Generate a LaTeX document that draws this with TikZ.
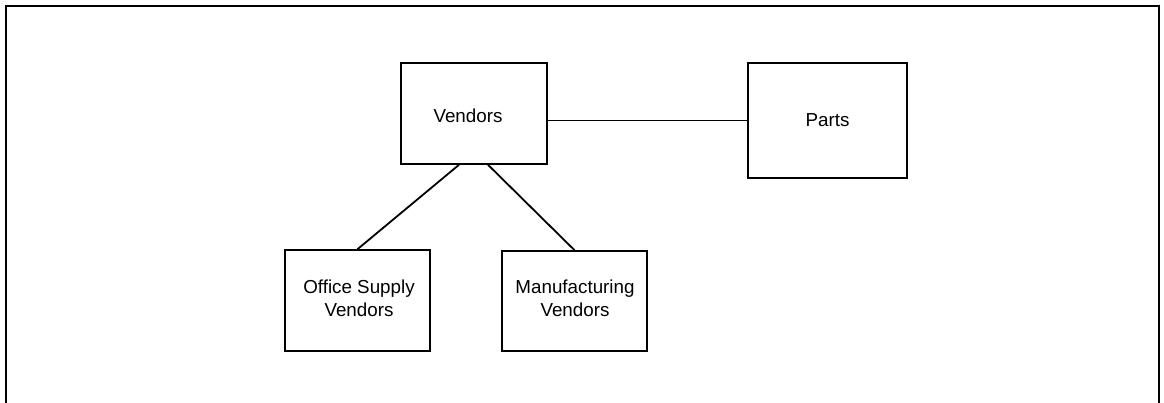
\documentclass[tikz,border=0pt]{standalone}
\usepackage{fontspec}
\setmainfont{Liberation Sans}
\begin{document}
\begin{tikzpicture}[x=1pt,y=-1pt,
  entity/.style={draw, line width=1.6pt, inner sep=0pt, align=center,
    font=\fontsize{18.8}{22.7}\selectfont},
  link/.style={line width=1.8pt}]
  \useasboundingbox (0,0) rectangle (1164,403);
  % open frame around the chart
  \draw[line width=2pt] (6,403) -- (6,6.5) -- (1159,6.5) -- (1159,403);

  \node[entity, minimum width=146pt, minimum height=101pt] (V) at (474,113.5) {};
  \node[font=\fontsize{18.8}{22.7}\selectfont] (Vt) at (468,115.5) {Vendors};
  \node[entity, minimum width=159pt, minimum height=115pt] (P) at (827.5,120.5) {Parts};
  \node[entity, minimum width=145pt, minimum height=101pt] (O) at (357.5,300.5) {};
  \node[font=\fontsize{18.8}{22.7}\selectfont, align=center] (Ot) at (359,298) {Office Supply\\Vendors};
  \node[entity, minimum width=145pt, minimum height=100pt] (M) at (574.5,301) {};
  \node[font=\fontsize{18.8}{22.7}\selectfont, align=center] (Mt) at (575,298.5) {Manufacturing\\Vendors};

  \draw[link] (P.west) -- (P.west -| V.east);
  \draw[link] ([xshift=-15pt]V.south) -- (O.north);
  \draw[link] ([xshift=14pt]V.south) -- (M.north);
\end{tikzpicture}
\end{document}
